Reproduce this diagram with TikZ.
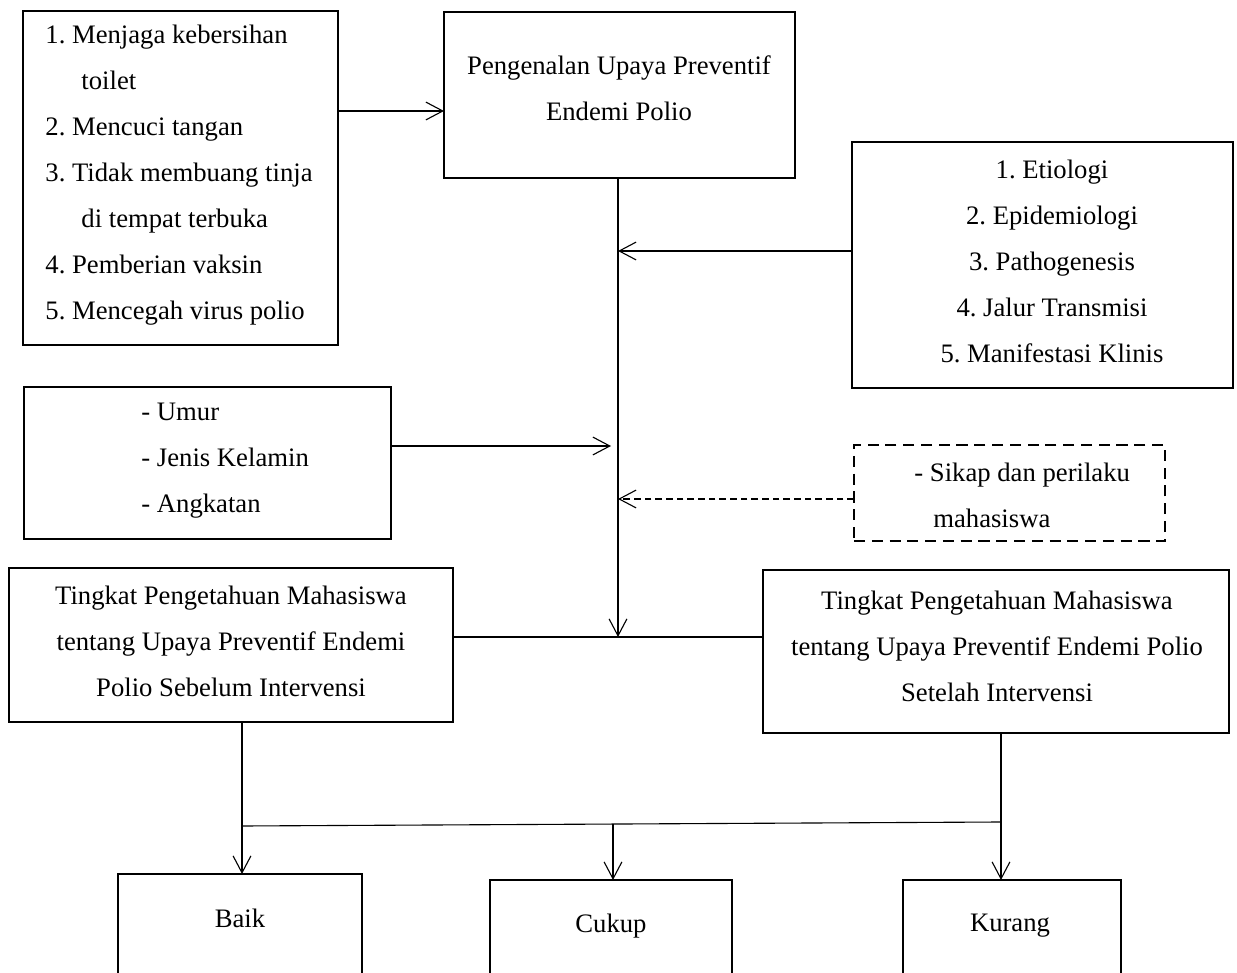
\documentclass[tikz,border=0pt]{standalone}
\usepackage{fontspec}
\setmainfont{Liberation Serif}
\usetikzlibrary{arrows.meta}
\frenchspacing
\begin{document}
\begin{tikzpicture}[x=0.45pt,y=-0.45pt,
  box/.style={draw,line width=0.95pt,inner sep=0pt,outer sep=0pt},
  dbox/.style={box,line width=1.05pt,dash pattern=on 5pt off 3pt},
  txt/.style={inner sep=0pt,font=\fontsize{12pt}{20.7pt}\selectfont},
  ln/.style={line width=0.5pt},
  arr/.style={ln,-{Straight Barb[length=7.6pt,width=8pt]}},
  darr/.style={arr,dash pattern=on 3pt off 1.8pt}]
\useasboundingbox (0,0) rectangle (1237,973);
\clip (0,0) rectangle (1237,973);

% boxes
\node[box,minimum width=141.75pt,minimum height=150.3pt] (A) at (180.5,178) {};
\node[box,minimum width=157.95pt,minimum height=74.7pt] (P) at (619.5,95) {};
\node[box,minimum width=171.45pt,minimum height=110.7pt] (E) at (1042.5,265) {};
\node[box,minimum width=165.15pt,minimum height=68.4pt] (U) at (207.5,463) {};
\node[dbox,minimum width=139.95pt,minimum height=43.2pt] (S) at (1009.5,493) {};
\node[box,minimum width=199.8pt,minimum height=69.3pt] (T1) at (231,645) {};
\node[box,minimum width=209.7pt,minimum height=73.35pt] (T2) at (996,651.5) {};
\node[box,minimum width=109.8pt,minimum height=56.7pt] (B) at (240,937) {};
\node[box,minimum width=108.9pt,minimum height=54pt] (C) at (611,940) {};
\node[box,minimum width=98.1pt,minimum height=54pt] (K) at (1012,940) {};

% texts
\node[txt,anchor=west,align=left] (At) at (45,175.5) {1. Menjaga kebersihan\\\hspace*{16.2pt}toilet\\2. Mencuci tangan\\3. Tidak membuang tinja\\\hspace*{16.2pt}di tempat terbuka\\4. Pemberian vaksin\\5. Mencegah virus polio};
\node[txt,align=center] (Pt) at (619,88.5) {Pengenalan Upaya Preventif\\Endemi Polio};
\node[txt,align=center] (Et) at (1052,261) {1. Etiologi\\2. Epidemiologi\\3. Pathogenesis\\4. Jalur Transmisi\\5. Manifestasi Klinis};
\node[txt,anchor=west,align=left] (Ut) at (141,461) {- Umur\\- Jenis Kelamin\\- Angkatan};
\node[txt,anchor=west,align=left] (St) at (914,495.5) {- Sikap dan perilaku\\\hspace*{8.5pt}mahasiswa};
\node[txt,align=center] (T1t) at (231,641) {Tingkat Pengetahuan Mahasiswa\\tentang Upaya Preventif Endemi\\Polio Sebelum Intervensi};
\node[txt,align=center] (T2t) at (997,646) {Tingkat Pengetahuan Mahasiswa\\tentang Upaya Preventif Endemi Polio\\Setelah Intervensi};
\node[txt] (Bt) at (240,918) {Baik};
\node[txt] (Ct) at (611,926) {Cukup};
\node[txt] (Kt) at (1010,926) {Kurang};

% helper coordinates
\coordinate (yAP) at (0,111);
\coordinate (j) at (618,637);
\coordinate (yE) at (0,251);
\coordinate (uEnd) at (611,446);
\coordinate (yS) at (0,499);
\coordinate (bl) at (242,826);
\coordinate (br) at (1001,822);
\coordinate (bm) at (613,824);

% connectors
\draw[arr] (A.east |- yAP) -- (P.west |- yAP);
\draw[arr] (j |- P.south) -- (j);
\draw[arr] (E.west |- yE) -- (j |- yE);
\draw[arr] (U.east |- uEnd) -- (uEnd);
\draw[darr] (S.west |- yS) -- (j |- yS);
\draw[ln] (T1.east |- j) -- (T2.west |- j);
\draw[arr] (bl |- T1.south) -- (bl |- B.north);
\draw[arr] (br |- T2.south) -- (br |- K.north);
\draw[ln] (bl) -- (br);
\draw[arr] (bm) -- (bm |- C.north);
\end{tikzpicture}
\end{document}
